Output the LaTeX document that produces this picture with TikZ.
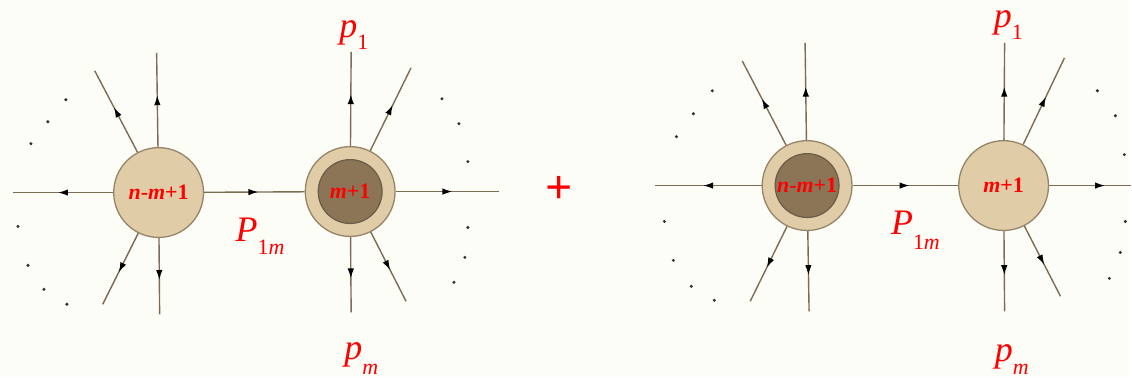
\documentclass[tikz,border=0pt]{standalone}
\usepackage{fontspec}
\setmainfont{Liberation Serif}
\usetikzlibrary{decorations.markings,arrows.meta}
\definecolor{fond}{RGB}{253,253,248}
\definecolor{peau}{RGB}{224,204,166}
\definecolor{brun}{RGB}{140,116,86}
\definecolor{trait}{RGB}{125,108,84}
\definecolor{bord}{RGB}{150,132,104}
\newcommand{\impuls}[3]{{\itshape #1}\raisebox{-#3}{\fontsize{22}{22}\selectfont #2}}
\begin{document}
\begin{tikzpicture}[x=1pt, y=-1pt,
  blob/.style={circle, draw=bord, line width=1.3pt, fill=peau, minimum size=90pt, inner sep=0pt},
  coeur/.style={circle, draw=bord!70!black, line width=1.2pt, fill=brun, minimum size=64pt, inner sep=0pt},
  patte/.style={draw=trait, line width=1.4pt, postaction=decorate,
    decoration={markings, mark=at position #1 with {\arrow{Latex[length=10pt,width=6.5pt,color=black]}}}},
  patte/.default=0.55,
  point/.style={circle, fill=black!80, inner sep=0pt, minimum size=3.4pt},
  etiq/.style={text=red, font=\fontsize{22}{22}\selectfont\bfseries},
  mom/.style={text=red, anchor=base west, inner sep=0pt, font=\fontsize{36}{36}\selectfont}]
\fill[fond] (0,0) rectangle (1132,378);
% premier terme
\node[blob, etiq] (A) at (159,193) {\textit{n}-\textit{m}+1};
\node[blob] (B) at (351,192) {};
\node[coeur, etiq] (Bc) at (351,192) {\textit{m}+1};
\foreach \n/\x/\y in {a1/13/193, a2/157/53, a3/95/71, a4/103/305, a5/160/315,
  b1/352/52, b2/412/68, b3/500/192, b4/407/302, b5/352/313}
  \coordinate (\n) at (\x,\y);
\foreach \i in {1,...,5} {
  \draw[patte] (A) -- (a\i);
  \draw[patte] (B) -- (b\i);
}
\draw[patte=0.54] (A) -- (B);
\foreach \p in {(66,100),(48,122),(31,144),(18,227),(28,266),(44,290),(67,305),
  (443,99),(460,124),(469,162),(469,228),(466,258),(455,283)}
  \node[point] at \p {};
\node[mom] (P1) at (236,242) {\impuls{P}{1\textit{m}}{13pt}};
\node[mom] (p1) at (340,38) {\impuls{p}{1}{12pt}};
\node[mom] (pm) at (345,360) {\impuls{p}{\textit{m}}{15pt}};
% signe plus
\node[text=red, font=\fontsize{48}{48}\selectfont\bfseries] (plus) at (560,190) {+};
% second terme
\node[blob] (C) at (809,186) {};
\node[coeur, etiq] (Cc) at (809,186) {\textit{n}-\textit{m}+1};
\node[blob, etiq] (D) at (1006,186) {\textit{m}+1};
\foreach \n/\x/\y in {c1/657/186, c2/807/43, c3/744/61, c4/752/302, c5/811/312,
  d1/1007/43, d2/1067/58, d4/1063/297, d5/1007/312}
  \coordinate (\n) at (\x,\y);
\coordinate (d3) at (1134,186);
\foreach \i in {1,...,5}
  \draw[patte] (C) -- (c\i);
\foreach \i in {1,2,4,5}
  \draw[patte] (D) -- (d\i);
\draw[patte=0.68] (D) -- (d3);
\draw[patte=0.54] (C) -- (D);
\foreach \p in {(714,91),(695,114),(678,137),(666,222),(675,261),(693,287),(716,301),
  (1100,91),(1118,116),(1127,155),(1128,222),(1123,253),(1112,279)}
  \node[point] at \p {};
\node[mom] (Q1) at (893,235) {\impuls{P}{1\textit{m}}{15pt}};
\node[mom] (q1) at (996,28) {\impuls{p}{1}{12pt}};
\node[mom] (qm) at (997,362) {\impuls{p}{\textit{m}}{13pt}};
\end{tikzpicture}
\end{document}
